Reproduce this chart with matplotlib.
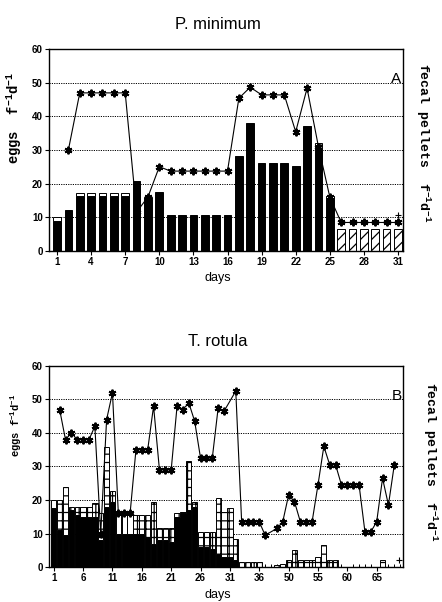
import numpy as np
import matplotlib
matplotlib.use('Agg')
import matplotlib.pyplot as plt

plt.rcParams['font.family'] = ['Liberation Sans', 'DejaVu Sans']
plt.rcParams['hatch.linewidth'] = 0.9
plt.rcParams['mathtext.fontset'] = 'custom'
plt.rcParams['mathtext.rm'] = 'Liberation Mono:bold'
plt.rcParams['mathtext.bf'] = 'Liberation Mono:bold'

# ---- panel A : P. minimum (days 1..31) ----
a_days = list(range(1, 32))
a_black = [8.7, 12.1, 16.3, 16.3, 16.3, 16.3, 16.3, 20.8, 15.5, 17.6,
           10.6, 10.6, 10.6, 10.6, 10.6, 10.6, 28.2, 38.1, 26.2, 26.2,
           26.2, 25.2, 37.1, 30.0, 15.5, 0, 0, 0, 0, 0, 0]
a_white = [1.2, 0, 0.8, 0.8, 0.8, 0.8, 0.8, 0, 0.4, 0,
           0, 0, 0, 0, 0, 0, 0, 0, 0, 0,
           0, 0, 0, 0, 0, 0, 0, 0, 0, 0, 0]
a_dotted = [0] * 23 + [2.1, 0.8] + [0] * 6
a_hatched = [0] * 25 + [6.4, 6.4, 6.4, 6.4, 6.4, 6.4]
a_pellet_days = list(range(2, 32))
a_pellets = [30, 47, 47, 47, 47, 47, 11.5, 16, 25, 23.7,
             23.7, 23.7, 23.7, 23.7, 23.7, 45.4, 48.7, 46.4, 46.4, 46.4,
             35.4, 48.4, 31, 16, 8.4, 8.4, 8.4, 8.4, 8.4, 8.4]
a_xticks = list(range(1, 32, 3))

# ---- panel B : T. rotula (sample index 1..60) ----
b_days = list(range(1, 61))
b_black = [17.5, 11, 9.5, 17, 15.5, 15, 15, 15, 8, 18,
           19.5, 10, 10, 10, 10, 10, 9, 7, 8, 8,
           7.5, 15, 16, 17, 18, 6, 6, 5.5, 4, 3,
           3, 2] + [0] * 28
b_white = [2.5] + [0] * 10 + [6, 6, 6] + [0] * 46
b_dotted = [0, 9, 14.5, 1, 2.5, 3, 3, 4, 8, 17.7,
            3.3, 0, 0, 0, 5.5, 5.5, 6.5, 12.5, 3.5, 3.5,
            4, 1, 0.5, 14.5, 1.5, 4.5, 4.5, 5, 16.5, 13.5,
            14.5, 6.5, 1.5, 1.5, 1.5, 1.5, 0, 0, 0.5, 1,
            2, 5, 2, 2, 2, 3, 6.5, 2, 2, 0,
            0, 0, 0, 0, 0, 0, 2, 0, 0, 0]
b_pellet_days = [2, 3, 4, 5, 6, 7, 8, 9, 10, 11, 12, 13, 14, 15, 16, 17, 18,
                 19, 20, 21, 22, 23, 24, 25, 26, 27, 28, 29, 30, 32, 33, 34,
                 35, 36, 37, 39, 40, 41, 42, 43, 44, 45, 46, 47, 48, 49, 50,
                 51, 52, 53, 54, 55, 56, 57, 58, 59]
b_pellets = [47, 38, 40, 38, 38, 38, 42, 10, 44, 52, 16, 16, 16, 35, 35, 35, 48,
             29, 29, 29, 48, 47, 49, 43.5, 32.5, 32.5, 32.5, 47.5, 46.5, 52.5,
             13.5, 13.5, 13.5, 13.5, 9.5, 11.5, 13.5, 21.5, 19.5, 13.5, 13.5,
             13.5, 24.5, 36, 30.5, 30.5, 24.5, 24.5, 24.5, 24.5, 10.5, 10.5,
             13.5, 26.5, 18.5, 30.5]
b_xticks = list(range(1, 57, 5))
b_xticklabels = ['1', '6', '11', '16', '21', '26', '31', '36', '50', '55', '60', '65']

yticks = [0, 10, 20, 30, 40, 50, 60]


def stack(ax, x, segs, width):
    """draw stacked bars, skipping empty segments"""
    x = np.array(x, dtype=float)
    bottom = np.zeros(len(x))
    for vals, style in segs:
        vals = np.array(vals, dtype=float)
        m = vals > 0
        ax.bar(x[m], vals[m], width, bottom=bottom[m], zorder=2, linewidth=0.7,
               edgecolor='black', **style)
        bottom = bottom + vals


def setup(ax, xlim, letter):
    ax.set_ylim(0, 60)
    ax.set_xlim(*xlim)
    ax.set_yticks(yticks)
    for y in yticks[1:-1]:
        ax.axhline(y, color='black', lw=0.7, ls=(0, (1.2, 1.2)), zorder=1)
    for s in ax.spines.values():
        s.set_linewidth(1.0)
    ax.tick_params(axis='both', which='major', direction='out', length=3,
                   width=0.8, labelsize=7, pad=1.5)
    for lab in ax.get_xticklabels() + ax.get_yticklabels():
        lab.set_fontweight('bold')
    ax.text(xlim[1] - 0.15, 51, letter, ha='right', va='center', fontsize=11)


fig = plt.figure(figsize=(4.42, 6.02), dpi=100)

dotted = dict(facecolor='white', hatch='++')
axA = fig.add_axes([0.111, 0.5836, 0.801, 0.3346])
stack(axA, a_days, [(a_black, dict(facecolor='black')),
                    (a_white, dict(facecolor='white')),
                    (a_dotted, dotted),
                    (a_hatched, dict(facecolor='white', hatch='///'))], 0.68)
axA.plot(a_pellet_days, a_pellets, color='black', lw=0.8, marker=(6, 2, 0),
         ms=5.5, mew=1.4, zorder=3)
axA.plot([31], [10.6], marker='+', color='black', ms=4, mew=0.8, zorder=3)
axA.set_xticks(a_xticks)
setup(axA, (0.3, 31.45), 'A')

axB = fig.add_axes([0.111, 0.0581, 0.801, 0.334])
stack(axB, b_days, [(b_black, dict(facecolor='black')),
                    (b_white, dict(facecolor='white')),
                    (b_dotted, dotted)], 0.9)
axB.plot(b_pellet_days, b_pellets, color='black', lw=0.8, marker=(6, 2, 0),
         ms=5.5, mew=1.4, zorder=3)
axB.plot([59.8], [2.1], marker='+', color='black', ms=4, mew=0.8, zorder=3)
axB.set_xticks(b_xticks)
axB.set_xticklabels(b_xticklabels)
axB.set_xticks(b_days, minor=True)
axB.tick_params(axis='x', which='minor', direction='in', length=2.5, width=0.7)
setup(axB, (0.2, 60.5), 'B')

fig.text(0.493, 0.960, 'P. minimum', ha='center', va='center', fontsize=12)
fig.text(0.493, 0.432, 'T. rotula', ha='center', va='center', fontsize=12)
fig.text(0.493, 0.538, 'days', ha='center', va='center', fontsize=9)
fig.text(0.493, 0.012, 'days', ha='center', va='center', fontsize=9)

mono = dict(family='Liberation Mono', fontweight='bold')
fig.text(0.033, 0.805, r'eggs  f$^{-1}$d$^{-1}$', rotation=90, ha='center',
         va='center', fontsize=10, **mono)
fig.text(0.038, 0.294, r'eggs f$^{-1}$d$^{-1}$', rotation=90, ha='center',
         va='center', fontsize=7.5, **mono)
fig.text(0.957, 0.762, r'fecal pellets  f$^{-1}$d$^{-1}$', rotation=270,
         ha='center', va='center', fontsize=9.5, **mono)
fig.text(0.974, 0.233, r'fecal pellets  f$^{-1}$d$^{-1}$', rotation=270,
         ha='center', va='center', fontsize=9.5, **mono)

fig.savefig('out.png', dpi=100)
